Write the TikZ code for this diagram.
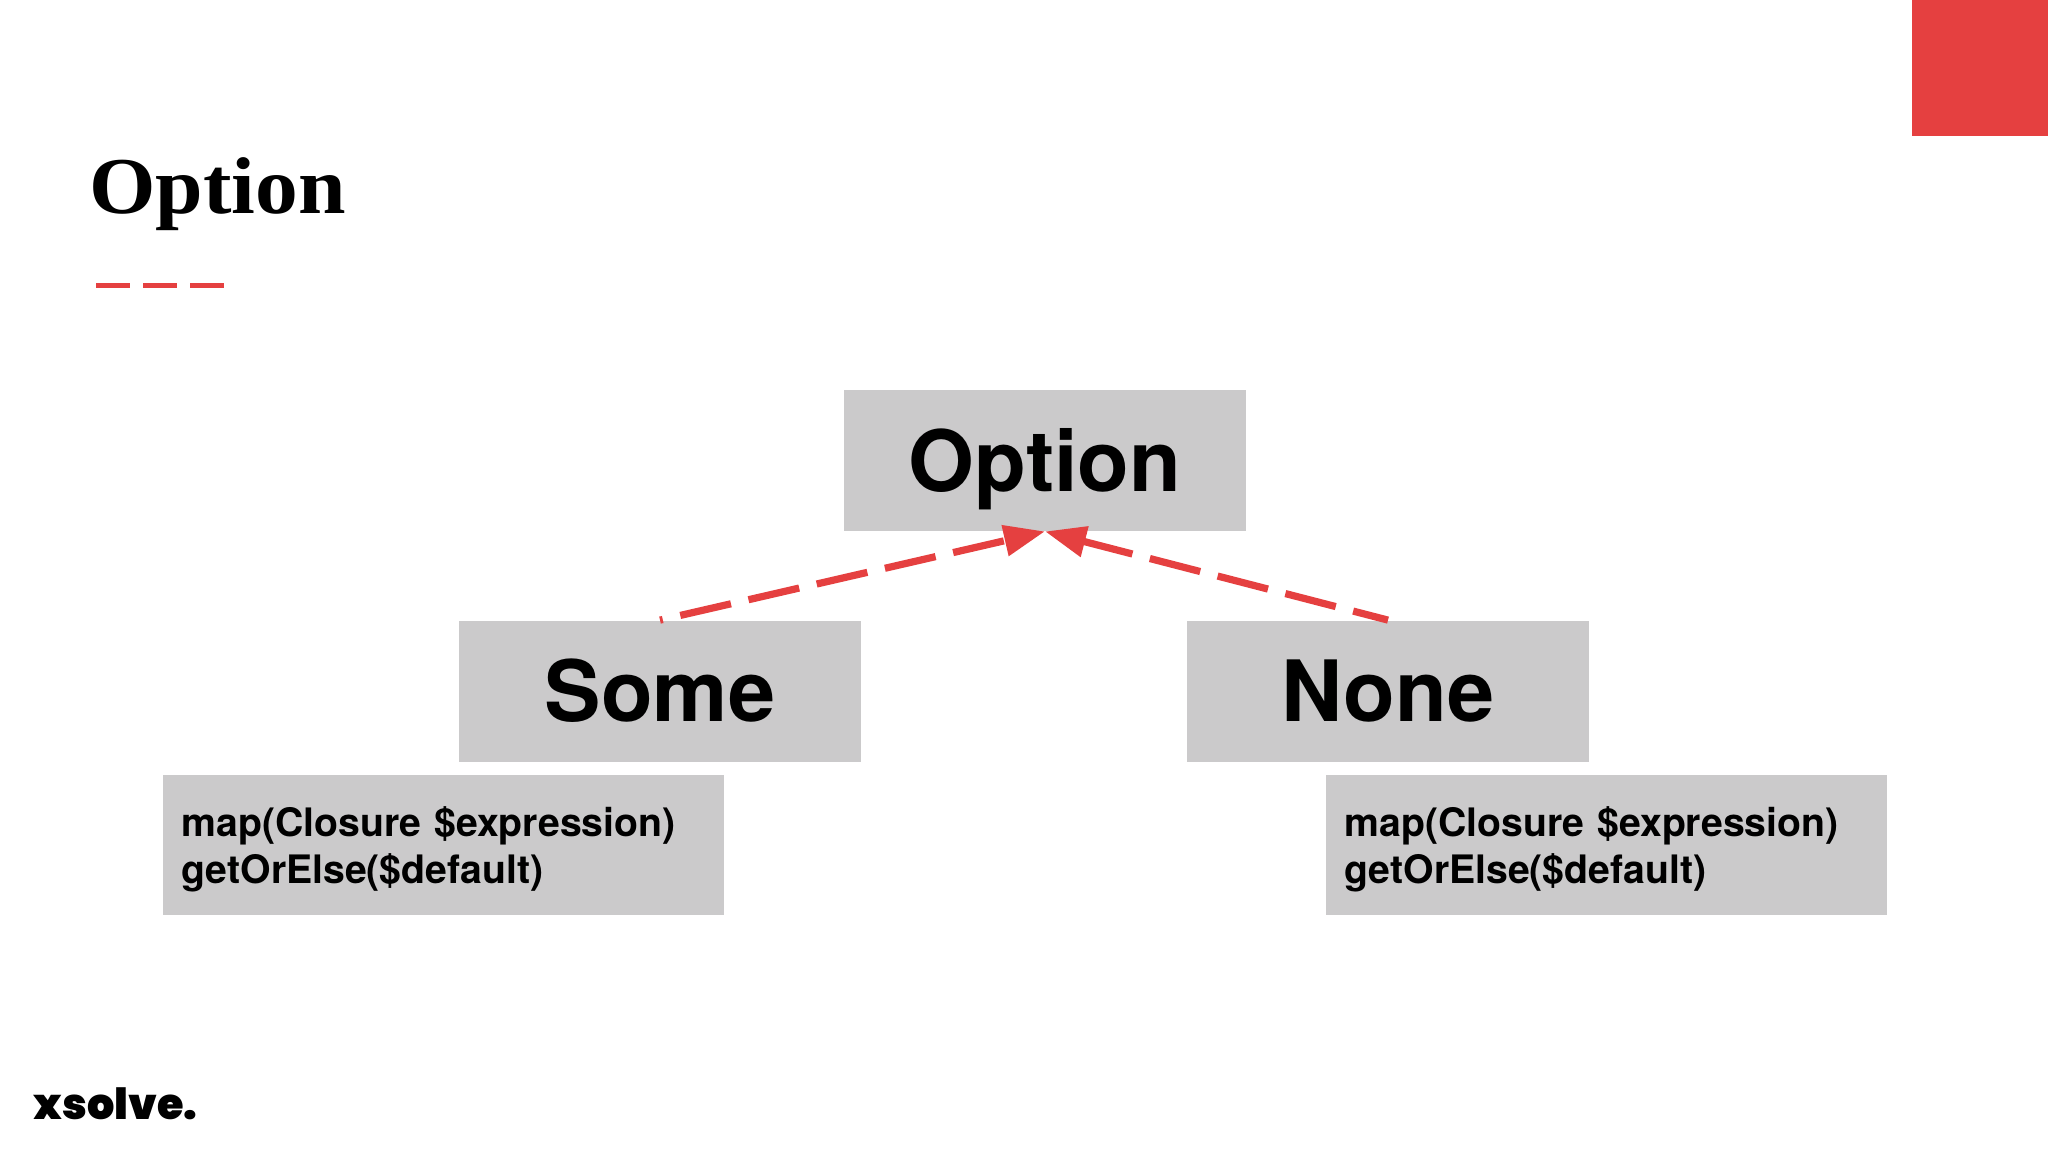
\documentclass[tikz,border=0pt]{standalone}
\usepackage{fontspec}
\usetikzlibrary{arrows.meta}
\setmainfont{TeX Gyre Heros}
\newfontfamily\titlefont[FakeStretch=1.06]{Liberation Serif}
\newfontfamily\logofont[UprightFont=* Black]{Poppins}
\definecolor{brandred}{HTML}{E54040}
\definecolor{boxgray}{HTML}{CBCACB}
\tikzset{
  bigbox/.style={fill=boxgray,inner sep=0pt,minimum width=201pt,minimum height=70.5pt,text depth=0pt,text height=30.7pt,font=\fontsize{42.3}{48}\selectfont\bfseries},
  smallbox/.style={fill=boxgray,inner sep=0pt,minimum width=280.5pt,minimum height=70pt,text width=262pt,align=left,font=\fontsize{19.6}{23.5}\selectfont\bfseries},
  inherit/.style={draw=brandred,line width=3.6pt,-{Triangle[length=20.5pt,width=15pt,fill=brandred]},dash pattern=on 26pt off 9pt},
}
\begin{document}
\begin{tikzpicture}[x=0.5pt,y=-0.5pt]
\useasboundingbox (0,0) rectangle (2048,1152);
\fill[brandred] (1912,0) rectangle (2048,136);
\node[anchor=base west,inner sep=0pt,font=\fontsize{40.3}{46}\selectfont\bfseries\titlefont] (title) at (89,213) {Option};
\coordinate (ruleA) at (96,285.5);
\coordinate (ruleB) at (224,285.5);
\draw[brandred,line width=2.2pt,dash pattern=on 17pt off 6.5pt] (ruleA) -- (ruleB);
\node[bigbox] (option) at (1045,460.5) {Option};
\node[bigbox] (some) at (660,691) {Some};
\node[bigbox] (none) at (1388,691) {None};
\node[smallbox] (someops) at (443.5,845) {\rule{0pt}{19.4pt}map(Closure \$expression)\\getOrElse(\$default)};
\node[smallbox] (noneops) at (1606.5,845) {\rule{0pt}{19.4pt}map(Closure \$expression)\\getOrElse(\$default)};
\draw[inherit,dash phase=24.6pt] (some.north) -- (option.south);
\draw[inherit,dash phase=8pt] (none.north) -- (option.south);
\node[anchor=base west,inner sep=0pt,font=\fontsize{21.5}{24}\selectfont\logofont] (logo) at (33,1119) {xsolve.};
\end{tikzpicture}
\end{document}
